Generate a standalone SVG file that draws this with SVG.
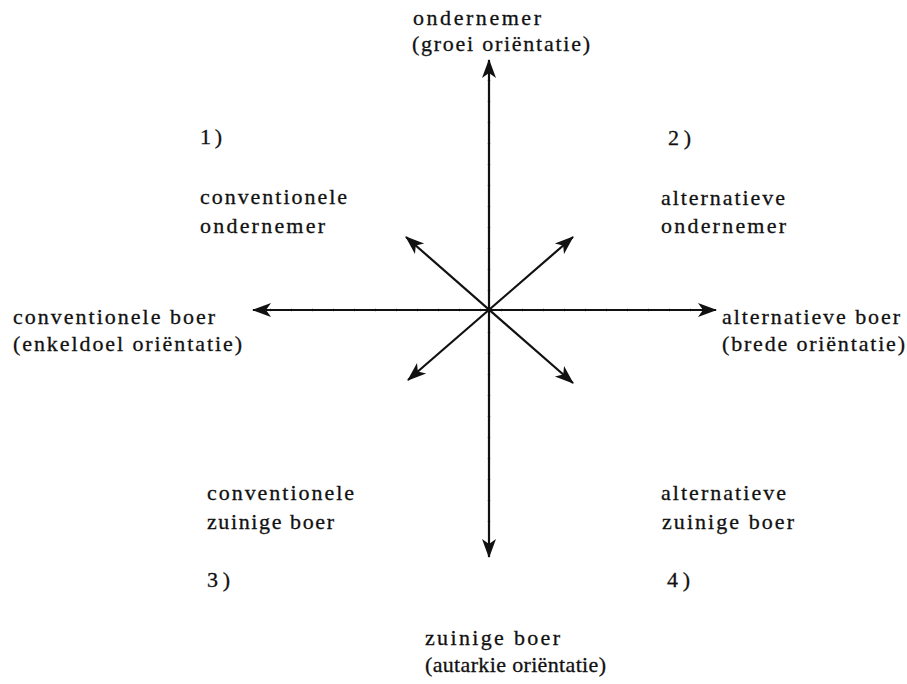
<svg xmlns="http://www.w3.org/2000/svg" width="907" height="684" viewBox="0 0 907 684">
<style>
text{font-family:"Liberation Serif","Times New Roman",serif;font-size:22px;fill:#111;stroke:#111;stroke-width:0.3}
.ax{stroke:#111;stroke-width:2.2;fill:none;marker-start:url(#ah);marker-end:url(#ah)}
.tk{stroke:#d4d4d4;stroke-width:4;stroke-dasharray:1 20;fill:none}
</style>
<defs>
<marker id="ah" viewBox="0 0 20 14" markerWidth="20" markerHeight="14" refX="19" refY="7" orient="auto-start-reverse" markerUnits="userSpaceOnUse">
<path d="M20,7 L1,0 L6,7 L1,14 z" fill="#111"/>
</marker>
</defs>
<rect width="907" height="684" fill="#fff"/>
<g id="connectors">
<line class="tk" x1="489" y1="80" x2="489" y2="540"/>
<line class="tk" x1="270" y1="310" x2="700" y2="310"/>
<line class="ax" x1="489" y1="557" x2="489" y2="60"/>
<line class="ax" x1="253" y1="310" x2="716" y2="310"/>
<line class="ax" x1="406" y1="237" x2="573" y2="383"/>
<line class="ax" x1="408" y1="380" x2="573" y2="237"/>
</g>
<g id="n-top"><text x="413" y="25" textLength="128" lengthAdjust="spacing">ondernemer</text><text x="412" y="51" textLength="178" lengthAdjust="spacing">(groei oriëntatie)</text></g>
<g id="n-q1"><text x="200" y="144" textLength="22" lengthAdjust="spacing">1)</text><text x="200" y="204" textLength="147" lengthAdjust="spacing">conventionele</text><text x="200" y="233" textLength="125" lengthAdjust="spacing">ondernemer</text></g>
<g id="n-q2"><text x="668" y="145" textLength="23" lengthAdjust="spacing">2)</text><text x="661" y="205" textLength="124" lengthAdjust="spacing">alternatieve</text><text x="661" y="233" textLength="125" lengthAdjust="spacing">ondernemer</text></g>
<g id="n-left"><text x="13" y="324" textLength="202" lengthAdjust="spacing">conventionele boer</text><text x="13" y="351" textLength="229" lengthAdjust="spacing">(enkeldoel oriëntatie)</text></g>
<g id="n-right"><text x="722" y="324" textLength="178" lengthAdjust="spacing">alternatieve boer</text><text x="722" y="351" textLength="183" lengthAdjust="spacing">(brede oriëntatie)</text></g>
<g id="n-q3"><text x="207" y="500" textLength="147" lengthAdjust="spacing">conventionele</text><text x="207" y="529" textLength="127" lengthAdjust="spacing">zuinige boer</text><text x="207" y="587" textLength="23" lengthAdjust="spacing">3)</text></g>
<g id="n-q4"><text x="661" y="500" textLength="125" lengthAdjust="spacing">alternatieve</text><text x="662" y="529" textLength="132" lengthAdjust="spacing">zuinige boer</text><text x="667" y="587" textLength="23" lengthAdjust="spacing">4)</text></g>
<g id="n-bottom"><text x="425" y="645" textLength="135" lengthAdjust="spacing">zuinige boer</text><text x="425" y="672" textLength="181" lengthAdjust="spacing">(autarkie oriëntatie)</text></g>
</svg>
